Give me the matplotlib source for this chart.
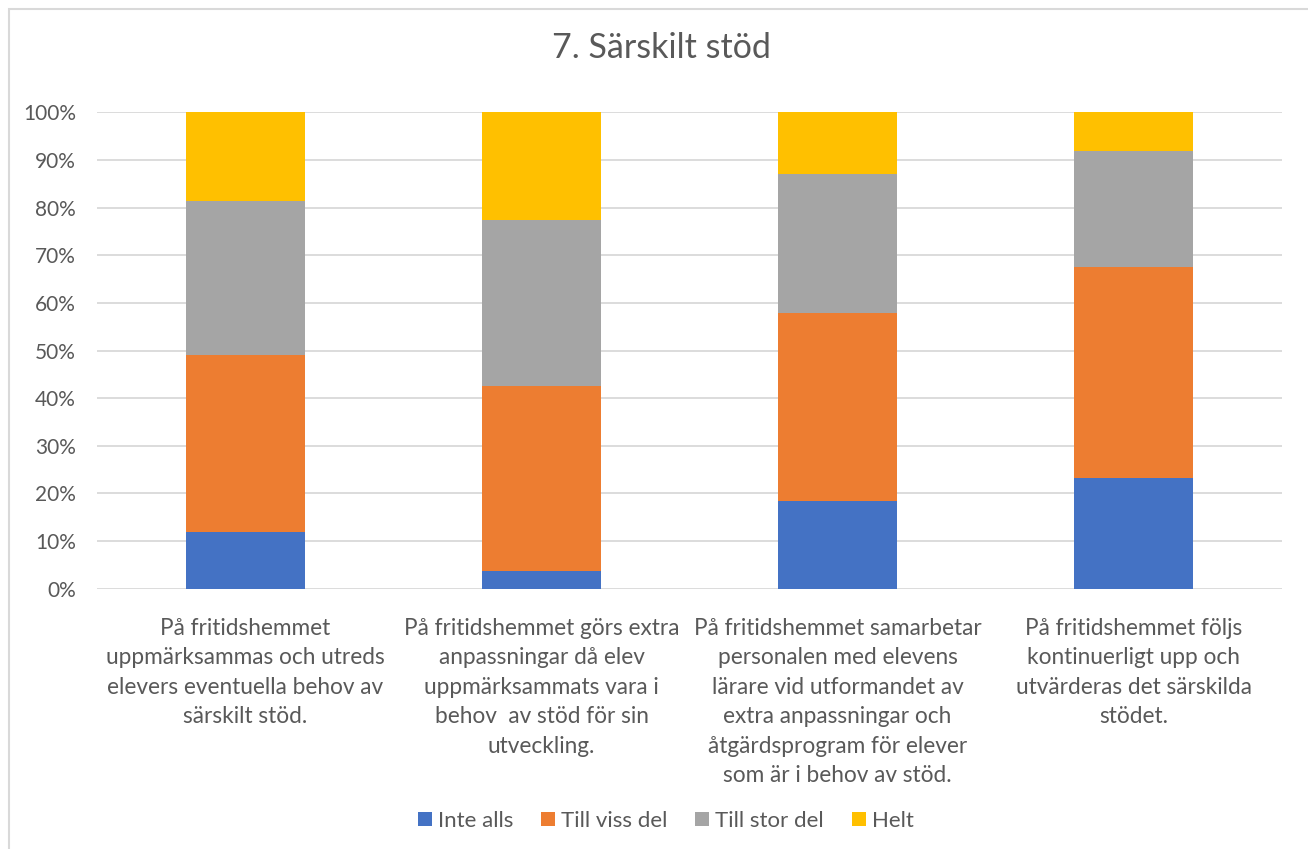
#!/usr/bin/env python
# -*- coding: utf-8 -*-

import matplotlib
matplotlib.use("Agg")
import matplotlib.pyplot as plt
from matplotlib.ticker import PercentFormatter
from matplotlib.patches import Rectangle

categories = [
    "På fritidshemmet\nuppmärksammas och utreds\nelevers eventuella behov av\nsärskilt stöd.",
    "På fritidshemmet görs extra\nanpassningar då elev\nuppmärksammats vara i\nbehov  av stöd för sin\nutveckling.",
    "På fritidshemmet samarbetar\npersonalen med elevens\nlärare vid utformandet av\nextra anpassningar och\nåtgärdsprogram för elever\nsom är i behov av stöd.",
    "På fritidshemmet följs\nkontinuerligt upp och\nutvärderas det särskilda\nstödet.",
]
series_names = ["Inte alls", "Till viss del", "Till stor del", "Helt"]
inte_alls = [11.9, 3.7, 18.4, 23.3]
till_viss_del = [37.2, 38.9, 39.5, 44.2]
till_stor_del = [32.3, 34.8, 29.1, 24.4]
helt = [18.6, 22.6, 13.0, 8.1]
colors = ["#4472c4", "#ed7d31", "#a5a5a5", "#ffc000"]

text_color = "#595959"
plt.rcParams["font.family"] = ["Lato", "DejaVu Sans"]

fig = plt.figure(figsize=(13.08, 8.49), dpi=100)
ax = fig.add_axes([0.0745, 0.3066, 0.9053, 0.5611])

# chart border (only top/left visible in the crop)
fig.patches.append(Rectangle((9 / 1308, -0.1), 1.2, 1 - 9 / 849 + 0.1,
                             transform=fig.transFigure, fill=False,
                             edgecolor="#d9d9d9", linewidth=1.5))

x = list(range(len(categories)))
bottom = [0.0] * len(categories)
for name, vals, col in zip(series_names, [inte_alls, till_viss_del, till_stor_del, helt], colors):
    ax.bar(x, vals, width=0.40, bottom=bottom, color=col, label=name, zorder=3)
    bottom = [b + v for b, v in zip(bottom, vals)]

ax.set_xlim(-0.5, len(categories) - 0.5)
ax.set_ylim(0, 100)
ax.set_yticks(range(0, 101, 10))
ax.yaxis.set_major_formatter(PercentFormatter(decimals=0))
ax.grid(axis="y", color="#d9d9d9", linewidth=1.3, zorder=0)
for s in ax.spines.values():
    s.set_visible(False)
ax.tick_params(axis="both", length=0, labelsize=15, colors=text_color)
ax.tick_params(axis="y", pad=15.5)
ax.set_xticks(x)
ax.set_xticklabels(categories, fontsize=16.3, color=text_color, linespacing=1.5)
ax.tick_params(axis="x", pad=21)

fig.text(0.506, 0.944, "7. Särskilt stöd", ha="center", va="center",
         fontsize=24.5, color=text_color)

fig.legend(loc="center", bbox_to_anchor=(0.509, 0.033), ncol=4, frameon=False,
           fontsize=16, labelcolor=text_color, handlelength=0.62, handleheight=0.62,
           handletextpad=0.27, columnspacing=1.26)

fig.savefig("out.png", dpi=100)
